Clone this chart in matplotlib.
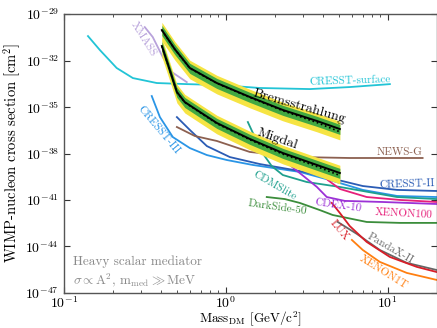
import numpy as np
import matplotlib
matplotlib.use("Agg")
import matplotlib.pyplot as plt
from matplotlib.ticker import FixedLocator, NullLocator, LogLocator

plt.rcParams['font.family'] = 'serif'
plt.rcParams['font.serif'] = ['cmr10']
plt.rcParams['mathtext.fontset'] = 'cm'
plt.rcParams['axes.formatter.use_mathtext'] = True
plt.rcParams['axes.unicode_minus'] = False

# masses in GeV/c^2, cross sections given as log10(sigma / cm^2)
cresst_surf_m = [0.141, 0.167, 0.212, 0.267, 0.375, 0.574, 0.918, 1.62, 3.30, 5.82, 10.3]
cresst_surf_s = [-30.42, -31.32, -32.48, -33.13, -33.45, -33.52, -33.58, -33.77, -33.84, -33.71, -33.52]

xmass_m = [0.316, 0.354, 0.408, 0.464, 0.574]
xmass_s = [-29.84, -30.48, -31.77, -32.74, -33.39]

cresst3_m = [0.349, 0.392, 0.471, 0.600, 0.764, 1.014, 1.468, 2.86, 4.38, 7.01, 11.4, 20.0]
cresst3_s = [-34.29, -35.65, -36.94, -37.65, -38.10, -38.42, -38.74, -39.19, -39.71, -40.35, -40.74, -40.81]

cresst2_m = [0.499, 0.600, 0.764, 1.059, 1.62, 2.86, 4.38, 7.01, 11.4, 20.0]
cresst2_s = [-35.65, -36.48, -37.52, -38.23, -38.68, -39.13, -39.58, -40.10, -40.35, -40.42]

newsg_m = [0.499, 0.644, 0.880, 1.406, 2.86, 5.82, 16.4]
newsg_s = [-36.29, -36.87, -37.19, -37.90, -38.23, -38.29, -38.29]

cdmslite_m = [1.368, 1.51, 1.667, 1.92, 2.25, 3.16, 5.06, 11.4, 20.0]
cdmslite_s = [-35.97, -36.94, -37.90, -38.81, -39.39, -39.84, -40.16, -40.81, -40.94]

cdex_m = [2.48, 3.07, 3.65, 4.20, 5.43, 9.31, 20.0]
cdex_s = [-38.74, -39.52, -40.16, -40.81, -41.06, -41.13, -41.26]

xenon100_m = [3.70, 4.26, 5.06, 7.41, 11.9, 20.0]
xenon100_s = [-38.87, -39.71, -40.29, -40.81, -41.00, -41.13]

darkside_m = [1.79, 2.31, 2.86, 3.80, 4.57, 7.41, 11.9, 20.0]
darkside_s = [-40.81, -40.94, -41.19, -41.65, -41.97, -42.42, -42.48, -42.48]

lux_m = [4.51, 5.06, 5.82, 7.41, 10.3, 15.1, 20.0]
lux_s = [-41.19, -41.84, -42.68, -43.71, -44.68, -45.32, -45.65]

pandax_m = [4.91, 6.44, 8.93, 13.1, 20.0]
pandax_s = [-42.42, -43.19, -44.23, -45.06, -45.52]

xenon1t_m = [6.0, 7.01, 8.93, 13.1, 20.0]
xenon1t_s = [-43.58, -44.23, -45.00, -45.71, -46.16]

# projected limits with 1 and 2 sigma bands
brem_m = [0.403, 0.484, 0.600, 0.880, 1.406, 2.25, 3.65, 5.06]
brem_obs = [-30.03, -31.26, -32.48, -33.45, -34.35, -35.19, -35.90, -36.42]
brem_med = [-30.04, -31.27, -32.50, -33.47, -34.38, -35.24, -36.00, -36.60]
brem_g_hi = [-29.73, -30.96, -32.18, -33.15, -34.05, -34.89, -35.60, -36.12]
brem_g_lo = [-30.38, -31.61, -32.83, -33.80, -34.70, -35.54, -36.25, -36.77]
brem_y_hi = [-29.53, -30.76, -31.98, -32.95, -33.85, -34.69, -35.40, -35.92]
brem_y_lo = [-30.73, -31.96, -33.18, -34.15, -35.05, -35.89, -36.60, -37.12]

migdal_m = [0.403, 0.451, 0.499, 0.558, 0.692, 0.880, 1.406, 2.25, 3.65, 5.06]
migdal_obs = [-31.06, -32.61, -34.03, -34.68, -35.32, -36.03, -37.06, -37.97, -38.74, -39.26]
migdal_med = [-31.07, -32.62, -34.05, -34.70, -35.35, -36.07, -37.11, -38.04, -38.84, -39.42]
migdal_g_hi = [-30.76, -32.31, -33.73, -34.38, -35.02, -35.73, -36.76, -37.67, -38.44, -38.96]
migdal_g_lo = [-31.41, -32.96, -34.38, -35.03, -35.67, -36.38, -37.41, -38.32, -39.09, -39.61]
migdal_y_hi = [-30.56, -32.11, -33.53, -34.18, -34.82, -35.53, -36.56, -37.47, -38.24, -38.76]
migdal_y_lo = [-31.76, -33.31, -34.73, -35.38, -36.02, -36.73, -37.76, -38.67, -39.44, -39.96]

exp_curves = [
    (cresst_surf_m, cresst_surf_s, '#22c4d6'),
    (xmass_m, xmass_s, '#b8a2db'),
    (cresst3_m, cresst3_s, '#2a95e6'),
    (cresst2_m, cresst2_s, '#2b5cb5'),
    (newsg_m, newsg_s, '#8c6050'),
    (cdmslite_m, cdmslite_s, '#1fa08e'),
    (darkside_m, darkside_s, '#3b8d3b'),
    (cdex_m, cdex_s, '#9c31d6'),
    (xenon100_m, xenon100_s, '#e6207a'),
    (pandax_m, pandax_s, '#666666'),
    (lux_m, lux_s, '#d81e28'),
    (xenon1t_m, xenon1t_s, '#ff7f10'),
]

# label text, mass, log10 sigma, rotation, colour, size
curve_labels = [
    ('CRESST-surface', 5.8, -33.32, 2, '#22c4d6', 8),
    ('XMASS', 0.312, -30.61, -58, '#b8a2db', 8),
    ('CRESST-III', 0.386, -36.48, -50, '#2a95e6', 8),
    ('NEWS-G', 11.9, -37.90, 0, '#8c6050', 8),
    ('CRESST-II', 13.1, -39.97, 2, '#2b5cb5', 8),
    ('CDMSlite', 2.0, -40.10, -30, '#1fa08e', 8),
    ('DarkSide-50', 2.09, -41.45, -8, '#3b8d3b', 8),
    ('CDEX-10', 4.91, -41.39, -8, '#9c31d6', 8),
    ('XENON100', 12.6, -41.90, -3, '#e6207a', 8),
    ('LUX', 4.99, -42.94, -50, '#d81e28', 8),
    ('PandaX-II', 10.4, -44.16, -30, '#666666', 8),
    ('XENON1T', 9.44, -45.65, -32, '#ff7f10', 8),
    ('Bremsstrahlung', 2.86, -34.95, -16, 'black', 10),
    ('Migdal', 2.09, -37.08, -19, 'black', 10),
]

fig = plt.figure(figsize=(4.37, 3.28), dpi=100)
ax = fig.add_axes([0.146, 0.107, 0.853, 0.850])

for m, s, c in exp_curves:
    ax.plot(m, np.power(10.0, s), color=c, lw=1.3, zorder=2)

for m, obs, med, ghi, glo, yhi, ylo in [
        (brem_m, brem_obs, brem_med, brem_g_hi, brem_g_lo, brem_y_hi, brem_y_lo),
        (migdal_m, migdal_obs, migdal_med, migdal_g_hi, migdal_g_lo, migdal_y_hi, migdal_y_lo)]:
    ax.fill_between(m, np.power(10.0, ylo), np.power(10.0, yhi), color='#f6e443', lw=0, zorder=3)
    ax.fill_between(m, np.power(10.0, glo), np.power(10.0, ghi), color='#42a942', lw=0, zorder=4)
    ax.plot(m, np.power(10.0, med), color='black', lw=1.2, ls=':', zorder=5)
    ax.plot(m, np.power(10.0, obs), color='black', lw=1.4, zorder=6)

for txt, m, s, rot, c, fs in curve_labels:
    ax.text(m, 10.0 ** s, txt, color=c, fontsize=fs, rotation=rot,
            ha='center', va='center', rotation_mode='anchor', zorder=7)

ax.text(0.024, 0.111, 'Heavy scalar mediator', transform=ax.transAxes,
        color='#8a8a8a', fontsize=9.5, ha='left', va='center')
ax.text(0.024, 0.047, r'$\sigma\propto\mathrm{A}^2$, $\mathrm{m}_\mathrm{med}\gg\mathrm{MeV}$',
        transform=ax.transAxes, color='#8a8a8a', fontsize=9.5, ha='left', va='center')

ax.set_xscale('log')
ax.set_yscale('log')
ax.set_xlim(0.1, 20)
ax.set_ylim(1e-47, 1e-29)
ax.yaxis.set_major_locator(FixedLocator([10.0 ** e for e in range(-47, -28, 3)]))
ax.yaxis.set_minor_locator(NullLocator())
ax.xaxis.set_minor_locator(LogLocator(base=10, subs=np.arange(2, 10)))

ax.set_xlabel(r'Mass$_{\rm DM}$ [GeV/c$^2$]', fontsize=9.5, labelpad=-1)
ax.set_ylabel(r'WIMP-nucleon cross section [cm$^2$]', fontsize=10.5, labelpad=2)
ax.tick_params(which='both', direction='in', top=True, right=True, labelsize=10, colors='#333333')
ax.tick_params(axis='x', which='both', pad=1.5)
ax.tick_params(which='major', length=4)
ax.tick_params(which='minor', length=2.5)
for sp in ax.spines.values():
    sp.set_color('#555555')
    sp.set_linewidth(1.0)
ax.tick_params(axis='both', labelcolor='black')

fig.savefig('out.png', dpi=100)
